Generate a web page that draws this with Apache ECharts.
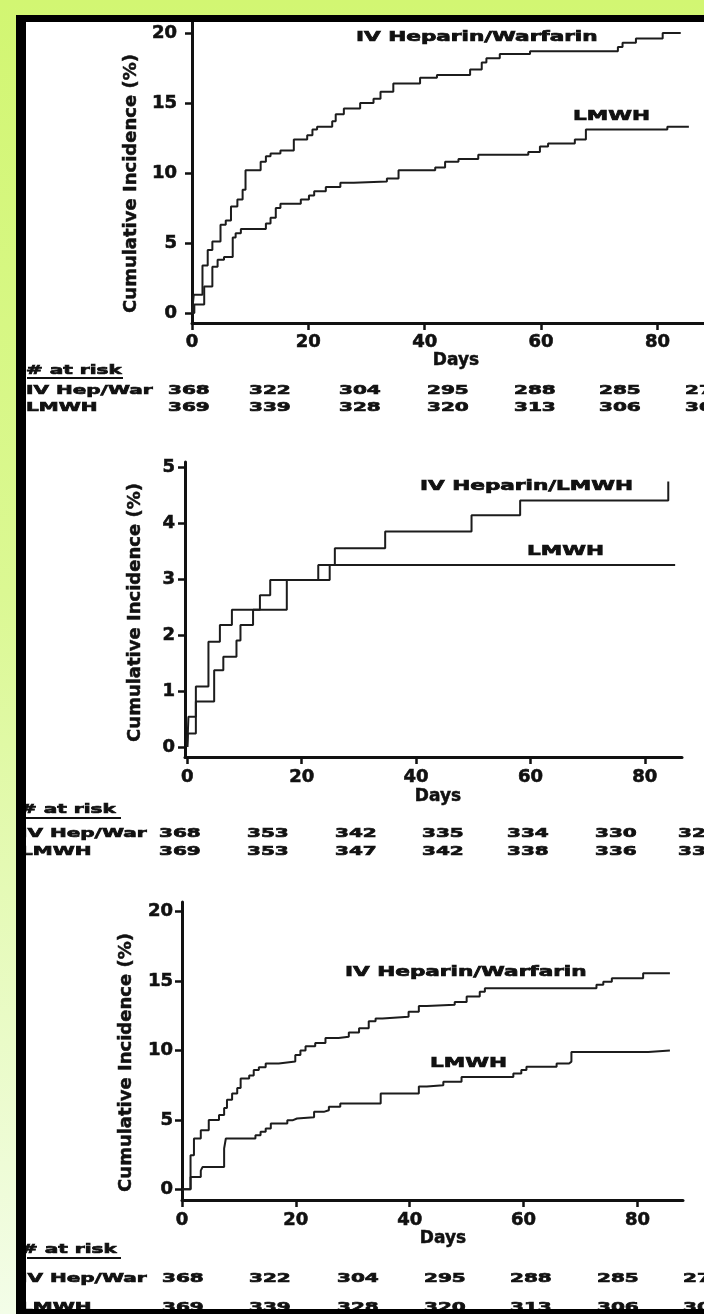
<!DOCTYPE html>
<html><head><meta charset="utf-8">
<script src="https://cdn.jsdelivr.net/npm/echarts@6/dist/echarts.min.js"></script>
<style>
html,body{margin:0;padding:0;}
body{width:704px;height:1314px;overflow:hidden;background:linear-gradient(to bottom,#d2f672 0%,#dbf893 45%,#f3fde8 100%);}
#chart{width:704px;height:1314px;}
</style></head><body><div id="chart"></div>
<script>
// ---------- data ----------
const xTicks = [0, 20, 40, 60, 80];
const yTicks1 = [0, 5, 10, 15, 20];
const yTicks2 = [0, 1, 2, 3, 4, 5];
const yTicks3 = [0, 5, 10, 15, 20];
const xTitle = 'Days';
const yTitle = 'Cumulative Incidence (%)';
const riskTitle = '# at risk';
const riskRowLabels = ['IV Hep/War', 'LMWH'];

const curveLabels1 = ['IV Heparin/Warfarin', 'LMWH'];
const curveLabels2 = ['IV Heparin/LMWH', 'LMWH'];
const curveLabels3 = ['IV Heparin/Warfarin', 'LMWH'];

// [day, cumulative incidence %]
const p1Hep = [[0,0],[0.3,1.3],[1.8,3.4],[2.7,4.5],[3.5,5.1],[4.9,6.3],[5.8,6.6],[6.7,7.6],[7.8,8.1],[8.7,8.8],[9.2,10.2],[11.8,10.8],[12.7,11.2],[13.5,11.4],[15.2,11.6],[17.5,12.4],[19.8,12.7],[20.7,13.1],[21.5,13.3],[24.1,13.7],[24.7,14.2],[26.1,14.6],[28.9,15.0],[31.2,15.3],[32.4,15.8],[34.6,16.4],[39.2,16.8],[42.1,17.0],[47.8,17.4],[49.8,17.9],[50.6,18.2],[52.9,18.5],[58.1,18.7],[73.2,19.0],[74.0,19.3],[76.3,19.6],[80.9,20.0],[84.0,20.0]];
const p1Lmwh = [[0,0],[0.4,0.6],[2.1,1.9],[3.5,3.3],[4.4,3.8],[5.5,4.0],[7.0,5.4],[7.5,5.7],[8.4,6.0],[12.7,6.4],[13.5,6.8],[14.4,7.5],[15.2,7.8],[18.7,8.1],[20.1,8.4],[21.0,8.7],[23.0,9.0],[25.5,9.3],[27.8,9.4],[33.5,9.6],[35.5,10.2],[41.8,10.4],[43.5,10.8],[45.8,11.0],[49.2,11.3],[57.8,11.5],[59.8,11.9],[61.2,12.1],[65.8,12.4],[67.7,13.1],[81.7,13.3],[85.4,13.3]];

const p2Hep = [[0,0],[0.1,0.24],[1.5,0.81],[4.7,1.37],[6.3,1.61],[8.6,1.9],[9.3,2.18],[11.5,2.45],[12.7,2.71],[14.5,2.98],[24.9,3.25],[25.8,3.55],[34.6,3.85],[49.7,4.14],[58.2,4.40],[84.1,4.74]];
const p2Lmwh = [[0,0],[0.2,0.54],[1.5,1.08],[3.7,1.88],[5.7,2.18],[7.8,2.45],[17.4,2.98],[22.9,3.25],[85.3,3.25]];

const p3Hep = [[0,0],[1.5,2.45],[2.1,3.66],[3.3,4.26],[4.7,5.0],[6.5,5.36],[7.4,5.85],[7.9,6.45],[8.8,6.9],[9.7,7.3],[10.3,7.98],[11.8,8.2],[12.6,8.6],[13.5,8.8],[14.7,9.07],[17.0,9.2],[19.9,9.68],[20.8,10.0],[21.7,10.3],[23.4,10.54],[25.2,10.9],[27.5,11.0],[29.3,11.3],[31.1,11.6],[32.8,12.1],[34.0,12.3],[35.2,12.44],[39.8,12.8],[41.6,13.2],[43.0,13.3],[47.9,13.5],[50.0,13.9],[52.3,14.24],[53.2,14.49],[72.8,14.73],[74.0,14.95],[75.5,15.2],[81.0,15.57],[85.7,15.57]];
const p3Lmwh = [[0,0],[1.5,0.89],[3.3,1.35],[3.6,1.6],[7.4,2.94],[7.7,3.66],[12.9,3.9],[13.8,4.14],[14.7,4.38],[15.6,4.75],[18.5,4.97],[19.4,5.1],[20.2,5.2],[23.2,5.58],[24.9,5.7],[25.8,5.94],[27.8,6.18],[34.9,6.9],[41.6,7.4],[43.0,7.5],[45.9,7.75],[49.1,8.1],[58.2,8.35],[59.6,8.6],[60.5,8.83],[65.8,9.07],[68.0,9.2],[68.4,9.9],[81.9,10.0],[85.7,10.0]];

const p1RiskHep  = ['368','322','304','295','288','285','27'];
const p1RiskLmwh = ['369','339','328','320','313','306','30'];
const p2RiskHep  = ['368','353','342','335','334','330','32'];
const p2RiskLmwh = ['369','353','347','342','338','336','33'];
const p3RiskHep  = ['368','322','304','295','288','285','27'];
const p3RiskLmwh = ['369','339','328','320','313','306','30'];

// ---------- layout ----------
const FONT = 'DejaVu Sans';
const S = 1.54;           // horizontal stretch of the annotation text
const INK = '#111';
const panels = [
  { grid:{left:192,top:22,width:512,height:301}, x:[0,88], y:[-0.714,20.786], yTicks:yTicks1,
    yLabelMargin:15, xLabelMargin:10, yNameGap:47, yNamePad:[0,22,0,0], xNameGap:21, xNamePad:[0,0,0,16],
    series:[p1Hep,p1Lmwh], labels:curveLabels1, labelPos:[[356,37.5],[573,116]],
    riskTitle:[26,371], underline:[27,123,378], rowX:26, rowY:[391,408],
    numX:[168,249,339,427,514,599,685], risk:[p1RiskHep,p1RiskLmwh] },
  { grid:{left:185,top:462,width:497,height:295}, x:[-0.4,86.5], y:[-0.179,5.089], yTicks:yTicks2,
    yLabelMargin:10, xLabelMargin:11, yNameGap:41, yNamePad:[0,6,0,0], xNameGap:31, xNamePad:[0,0,0,9],
    series:[p2Hep,p2Lmwh], labels:curveLabels2, labelPos:[[420,486],[527,551]],
    riskTitle:[20,810], underline:[22,121,818], rowX:20, rowY:[834,852],
    numX:[159,247,335,422,507,595,678], risk:[p2RiskHep,p2RiskLmwh] },
  { grid:{left:182,top:902,width:501,height:298}, x:[0,88], y:[-0.77,20.70], yTicks:yTicks3,
    yLabelMargin:9, xLabelMargin:11, yNameGap:47, yNamePad:[0,23,0,0], xNameGap:28, xNamePad:[0,0,0,21],
    series:[p3Hep,p3Lmwh], labels:curveLabels3, labelPos:[[345,972],[430,1063]],
    riskTitle:[21,1250], underline:[27,121,1258], rowX:20, rowY:[1279,1308],
    numX:[162,249,337,424,510,597,683], risk:[p3RiskHep,p3RiskLmwh] }
];

function txt(text, x, y, size) {
  return { type:'text', x:x, y:y, scaleX:S, z:50,
    style:{ text:text, fontFamily:FONT, fontWeight:'bold', fontSize:size, fill:INK,
            stroke:INK, lineWidth:0.7,
            textAlign:'left', textVerticalAlign:'middle', align:'left', verticalAlign:'middle' } };
}

const grids = [], xAxes = [], yAxes = [], series = [];
const graphics = [
  { type:'rect', z:-10, shape:{x:26,y:22,width:678,height:1287}, style:{fill:'#ffffff'} }
];
const axisLineStyle = { color:INK, width:3 };
const labelStyle = { fontFamily:FONT, fontWeight:'bold', fontSize:18, color:INK, textBorderColor:INK, textBorderWidth:0.6 };

panels.forEach(function(p, i) {
  grids.push(Object.assign({ containLabel:false }, p.grid));
  xAxes.push({
    type:'value', gridIndex:i, min:p.x[0], max:p.x[1],
    axisLine:{ show:true, onZero:false, lineStyle:axisLineStyle },
    axisTick:{ show:true, length:7, lineStyle:{ color:INK, width:2.5 }, customValues:xTicks },
    axisLabel:Object.assign({ margin:p.xLabelMargin, customValues:xTicks, formatter:function(v){ return String(v); } }, labelStyle),
    splitLine:{ show:false },
    name:xTitle, nameLocation:'middle', nameGap:p.xNameGap,
    nameTextStyle:{ fontFamily:FONT, fontWeight:'bold', fontSize:17, color:INK, textBorderColor:INK, textBorderWidth:0.5, padding:p.xNamePad }
  });
  yAxes.push({
    type:'value', gridIndex:i, min:p.y[0], max:p.y[1],
    axisLine:{ show:true, onZero:false, lineStyle:axisLineStyle },
    axisTick:{ show:true, length:7, lineStyle:{ color:INK, width:2.5 }, customValues:p.yTicks },
    axisLabel:Object.assign({ margin:p.yLabelMargin, customValues:p.yTicks, formatter:function(v){ return String(v); } }, labelStyle),
    splitLine:{ show:false },
    name:yTitle, nameLocation:'middle', nameGap:p.yNameGap,
    nameTextStyle:{ fontFamily:FONT, fontWeight:'bold', fontSize:18, color:INK, textBorderColor:INK, textBorderWidth:0.5, padding:p.yNamePad }
  });
  p.series.forEach(function(d, k) {
    series.push({
      type:'line', step:'end', xAxisIndex:i, yAxisIndex:i, data:d, symbol:'none',
      name:p.labels[k], lineStyle:{ color:'#1c1c1c', width:2 }, z:3
    });
  });
  // curve labels
  p.labels.forEach(function(t, k) { graphics.push(txt(t, p.labelPos[k][0], p.labelPos[k][1], 14)); });
  // at-risk table
  graphics.push(txt(riskTitle, p.riskTitle[0], p.riskTitle[1], 13));
  graphics.push({ type:'line', z:50, shape:{x1:p.underline[0], y1:p.underline[2], x2:p.underline[1], y2:p.underline[2]},
                  style:{ stroke:INK, lineWidth:1.8 } });
  riskRowLabels.forEach(function(lbl, r) {
    graphics.push(txt(lbl, p.rowX, p.rowY[r], 13));
    p.risk[r].forEach(function(v, c) { graphics.push(txt(v, p.numX[c], p.rowY[r], 13)); });
  });
});

// black frame drawn on top
graphics.push({ type:'rect', z:100, shape:{x:16,y:15,width:10,height:1299}, style:{fill:'#000'} });
graphics.push({ type:'rect', z:100, shape:{x:16,y:15,width:688,height:7}, style:{fill:'#000'} });
graphics.push({ type:'rect', z:100, shape:{x:16,y:1309,width:688,height:5}, style:{fill:'#000'} });

const chart = echarts.init(document.getElementById('chart'), null, { renderer:'canvas' });
chart.setOption({
  animation:false,
  backgroundColor:'transparent',
  grid:grids, xAxis:xAxes, yAxis:yAxes, series:series,
  graphic:{ elements:graphics }
});
</script>
</body></html>
